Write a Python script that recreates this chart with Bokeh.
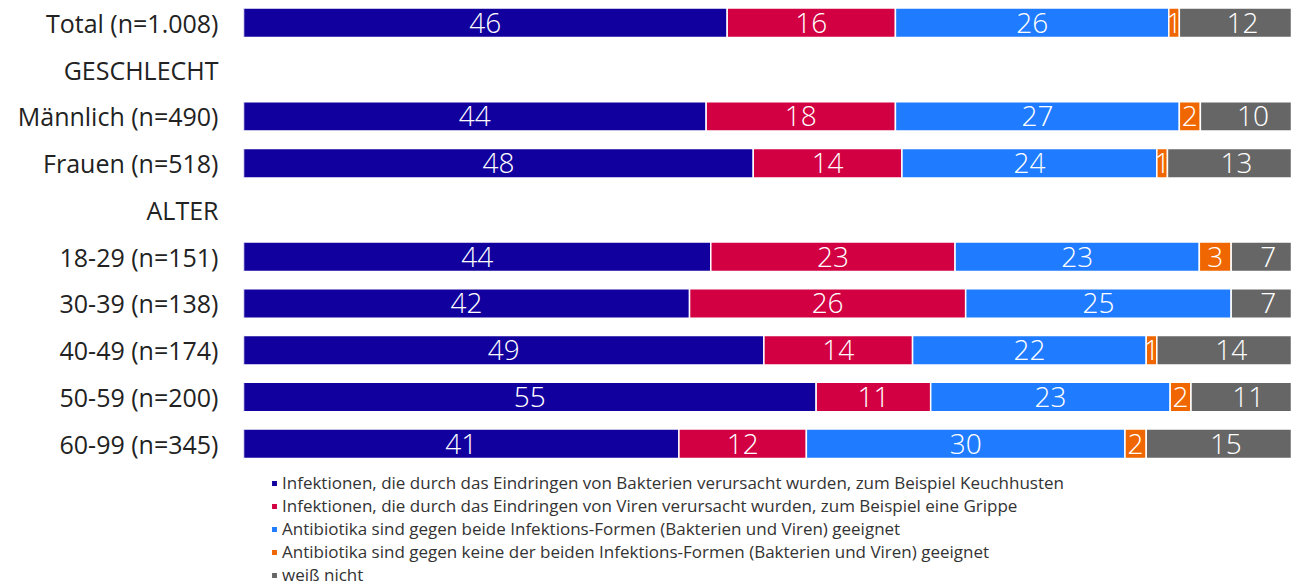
from bokeh.plotting import figure
from bokeh.models import ColumnDataSource, Range1d, FixedTicker, Legend, LegendItem
from bokeh.core.properties import value
from bokeh.embed import file_html
from bokeh.resources import INLINE

# ---------------- data ----------------
rows = ["Total (n=1.008)", "GESCHLECHT", "Männlich (n=490)", "Frauen (n=518)", "ALTER",
        "18-29 (n=151)", "30-39 (n=138)", "40-49 (n=174)", "50-59 (n=200)", "60-99 (n=345)"]
bar_rows = ["Total (n=1.008)", "Männlich (n=490)", "Frauen (n=518)",
            "18-29 (n=151)", "30-39 (n=138)", "40-49 (n=174)", "50-59 (n=200)", "60-99 (n=345)"]

series_names = [
    "Infektionen, die durch das Eindringen von Bakterien verursacht wurden, zum Beispiel Keuchhusten",
    "Infektionen, die durch das Eindringen von Viren verursacht wurden, zum Beispiel eine Grippe",
    "Antibiotika sind gegen beide Infektions-Formen (Bakterien und Viren) geeignet",
    "Antibiotika sind gegen keine der beiden Infektions-Formen (Bakterien und Viren) geeignet",
    "weiß nicht",
]
bakterien = [46, 44, 48, 44, 42, 49, 55, 41]
viren = [16, 18, 14, 23, 26, 14, 11, 12]
beide = [26, 27, 24, 23, 25, 22, 23, 30]
keine = [1, 2, 1, 3, 0, 1, 2, 2]
weiss_nicht = [12, 10, 13, 7, 7, 14, 11, 15]
series_values = [bakterien, viren, beide, keine, weiss_nicht]
colors = ["#12009E", "#D20042", "#1F7BFF", "#F06600", "#666666"]

FONT = "Open Sans"
NUM_FONT = "'Open Sans Light', 'Open Sans'"

# ---------------- figure ----------------
X_END = 98.68
p = figure(width=1291, height=586, output_backend="svg", toolbar_location=None,
           x_range=Range1d(0, X_END), y_range=Range1d(12.05, -0.477),
           x_axis_location=None, min_border_left=243, min_border_right=0,
           min_border_top=0, min_border_bottom=0)
p.outline_line_color = None
p.grid.visible = False
p.background_fill_color = "white"

row_index = {name: i for i, name in enumerate(rows)}

renderers = []
for k, (vals, col) in enumerate(zip(series_values, colors)):
    ys, lefts, rights, centers, texts = [], [], [], [], []
    for j, name in enumerate(bar_rows):
        tot = sum(sv[j] for sv in series_values)
        start = sum(series_values[m][j] for m in range(k)) / tot * 100
        end = start + vals[j] / tot * 100
        if vals[j] <= 0:
            continue
        ys.append(row_index[name])
        lefts.append(start)
        rights.append(end)
        centers.append((start + end) / 2)
        texts.append(str(vals[j]))
    src = ColumnDataSource(dict(y=ys, left=lefts, right=rights, cx=centers, t=texts))
    r = p.hbar(y="y", left="left", right="right", height=0.63, source=src,
               fill_color=col, line_color="white", line_width=1.5)
    p.text(x="cx", y="y", text="t", source=src, text_color="white",
           text_font=value(NUM_FONT), text_font_size="28px", text_align="center",
           text_baseline="middle")
    renderers.append(r)

ax = p.yaxis[0]
ax.ticker = FixedTicker(ticks=list(range(len(rows))))
ax.major_label_overrides = {i: name for i, name in enumerate(rows)}
ax.axis_line_color = None
ax.major_tick_line_color = None
ax.minor_tick_line_color = None
ax.major_tick_in = 0
ax.major_tick_out = 0
ax.major_label_standoff = 25
ax.major_label_text_font = FONT
ax.major_label_text_font_size = "25px"
ax.major_label_text_color = "#222222"

legend = Legend(
    items=[LegendItem(label=n, renderers=[r]) for n, r in zip(series_names, renderers)],
    location=(27, 0), orientation="vertical",
    label_text_font=FONT, label_text_font_size="17px", label_text_color="#333333",
    glyph_width=8, glyph_height=8, label_height=18, spacing=0, label_standoff=4,
    padding=0, margin=0, border_line_alpha=0, background_fill_alpha=0,
)
p.add_layout(legend, "center")

open("out.html", "w").write(file_html(p, INLINE))
